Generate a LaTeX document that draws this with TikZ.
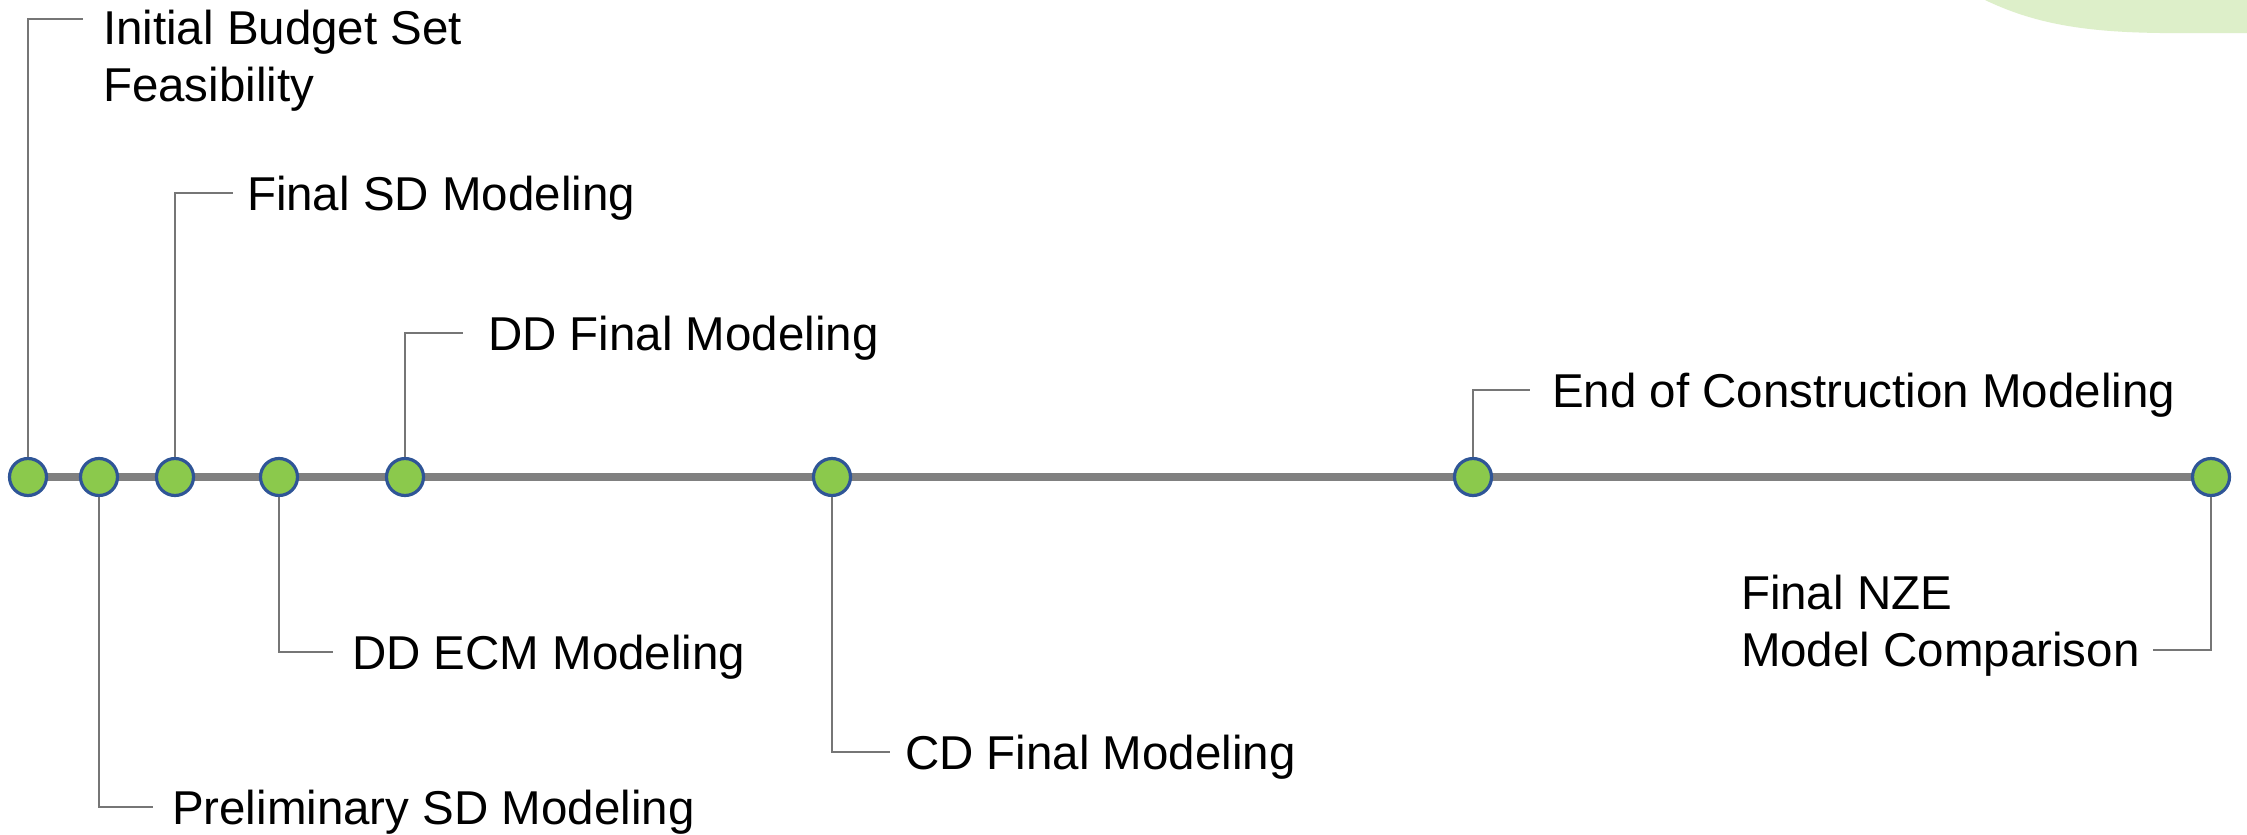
\documentclass[tikz,border=0pt]{standalone}
\usepackage{fontspec}
\setmainfont{Liberation Sans}
\usetikzlibrary{backgrounds}
\definecolor{dotgreen}{RGB}{139,201,76}
\definecolor{dotblue}{RGB}{47,85,151}
\definecolor{axisgray}{RGB}{128,128,128}
\definecolor{leadgray}{RGB}{118,118,118}
\definecolor{blobgreen}{RGB}{221,239,201}
\tikzset{
  milestone/.style={circle, minimum size=37, inner sep=0, fill=dotgreen, draw=dotblue, line width=3.2},
  timeline/.style={draw=axisgray, line width=8},
  leader/.style={draw=leadgray, line width=1.8},
  lbl/.style={inner sep=0, outer sep=0, font=\fontsize{47.5}{57}\selectfont, text=black},
}
\begin{document}
\begin{tikzpicture}[x=1pt, y=-1pt]
\useasboundingbox (0,0) rectangle (2247,835);

% milestones
\node[milestone] (c1) at (28,477) {};
\node[milestone] (c2) at (99,477) {};
\node[milestone] (c3) at (175,477) {};
\node[milestone] (c4) at (279,477) {};
\node[milestone] (c5) at (405,477) {};
\node[milestone] (c6) at (832,477) {};
\node[milestone] (c7) at (1473,477) {};
\node[milestone] (c8) at (2211,477) {};

\begin{pgfonlayer}{background}
  \fill[white] (0,0) rectangle (2247,835);
  % pale green corner shape
  \fill[blobgreen] (1985,0) .. controls (2035,24) and (2085,32) .. (2160,33) -- (2247,33) -- (2247,0) -- cycle;
  \draw[timeline] (c1.center) -- (c8.center);
\end{pgfonlayer}

% leader end points
\coordinate (k1) at (83,19);
\coordinate (k2) at (153,807);
\coordinate (k3) at (233,193);
\coordinate (k4) at (333,652);
\coordinate (k5) at (463,333);
\coordinate (k6) at (890,752);
\coordinate (k7) at (1530,390);
\coordinate (k8) at (2153,650);

\draw[leader] (c1.north) |- (k1);
\draw[leader] (c2.south) |- (k2);
\draw[leader] (c3.north) |- (k3);
\draw[leader] (c4.south) |- (k4);
\draw[leader] (c5.north) |- (k5);
\draw[leader] (c6.south) |- (k6);
\draw[leader] (c7.north) |- (k7);
\draw[leader] (c8.south) |- (k8);

% labels
\node[lbl, anchor=north west, align=left] (t1) at (103,10) {Initial Budget Set\\Feasibility};
\node[lbl, anchor=base west] (t2) at (172,824) {Preliminary SD Modeling};
\node[lbl, anchor=base west] (t3) at (247,210) {Final SD Modeling};
\node[lbl, anchor=base west] (t4) at (352,669) {DD ECM Modeling};
\node[lbl, anchor=base west] (t5) at (488,350) {DD Final Modeling};
\node[lbl, anchor=base west] (t6) at (905,769) {CD Final Modeling};
\node[lbl, anchor=base west] (t7) at (1552,407) {End of Construction Modeling};
\node[lbl, anchor=north west, align=left] (t8) at (1741,575) {Final NZE\\Model Comparison};
\end{tikzpicture}
\end{document}
